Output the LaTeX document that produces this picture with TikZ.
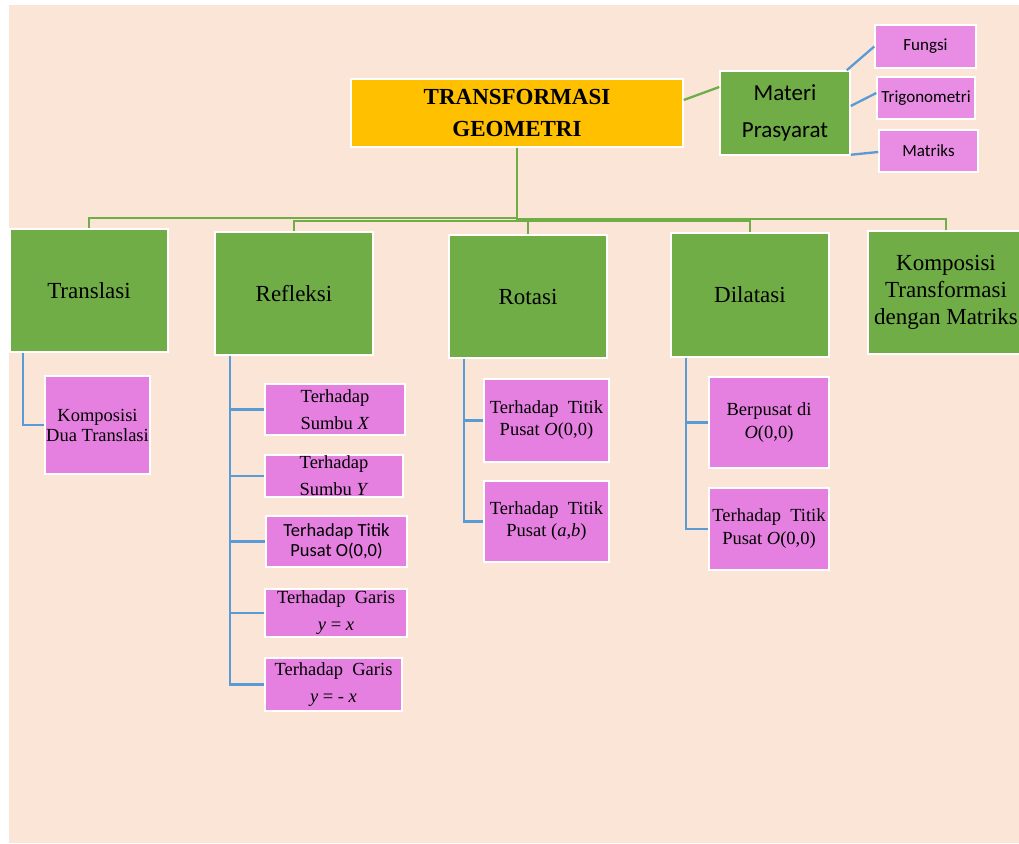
\documentclass[tikz,border=0pt]{standalone}
\usepackage{fontspec}
\setmainfont{Liberation Serif}
\newfontfamily\carl{Carlito}
\definecolor{peach}{HTML}{FBE5D6}
\definecolor{ogreen}{HTML}{70AD47}
\definecolor{oorange}{HTML}{FFC000}
\definecolor{oblue}{HTML}{5B9BD5}
\definecolor{opink}{HTML}{E580E0}
\definecolor{lpink}{HTML}{E98DE4}
\begin{document}
\begin{tikzpicture}[x=1pt,y=-1pt,
  box/.style={draw=white,line width=1.5pt,inner sep=0pt,align=center},
  titlebox/.style={box,fill=oorange,font=\fontsize{23}{32}\selectfont\bfseries},
  gbox/.style={box,fill=ogreen,font=\fontsize{23}{27}\selectfont},
  mbox/.style={box,fill=ogreen,font=\carl\fontsize{23}{37}\selectfont},
  pbox/.style={box,fill=opink,font=\fontsize{18.5}{22}\selectfont},
  sbox/.style={box,fill=lpink,font=\carl\fontsize{17}{18}\selectfont},
  gline/.style={draw=ogreen,line width=2.3pt},
  bline/.style={draw=oblue,line width=2.3pt},
]
\fill[white] (0,0) rectangle (1019,843);
\fill[peach] (9,5) rectangle (1019,843);
\useasboundingbox (0,0) rectangle (1019,843);

% top
\node[titlebox,minimum width=332pt,minimum height=68pt] (title) at (517,113) {TRANSFORMASI\\GEOMETRI};
\node[mbox,minimum width=130pt,minimum height=84pt] (materi) at (785,113) {Materi\\Prasyarat};
\node[sbox,minimum width=101pt,minimum height=43pt] (fungsi) at (925.5,46.5) {Fungsi};
\node[sbox,minimum width=98pt,minimum height=42pt] (trig) at (926,98) {Trigonometri};
\node[sbox,minimum width=99pt,minimum height=42pt] (matriks) at (928.5,151) {Matriks};

% main categories
\node[gbox,minimum width=158pt,minimum height=123pt] (translasi) at (89,290.5) {Translasi};
\node[gbox,minimum width=158pt,minimum height=123pt] (refleksi) at (294,293.5) {Refleksi};
\node[gbox,minimum width=158pt,minimum height=123pt] (rotasi) at (528,296.5) {Rotasi};
\node[gbox,minimum width=158pt,minimum height=124pt] (dilatasi) at (750,295) {Dilatasi};
\node[gbox,minimum width=156pt,minimum height=123pt] (komposisi) at (946,292.5) {Komposisi\\Transformasi\\dengan Matriks};

% children
\node[pbox,minimum width=105pt,minimum height=98pt,font=\fontsize{18.5}{20}\selectfont] (kdt) at (97.5,425) {Komposisi\\Dua Translasi};

\node[pbox,minimum width=140pt,minimum height=51pt,font=\fontsize{18.5}{27}\selectfont] (sx) at (335,409.5) {Terhadap\\Sumbu \textit{X}};
\node[pbox,minimum width=138pt,minimum height=42pt,font=\fontsize{18.5}{27}\selectfont] (sy) at (334,476) {Terhadap\\Sumbu \textit{Y}};
\node[pbox,minimum width=141pt,minimum height=51pt,font=\carl\fontsize{18.5}{20}\selectfont] (so) at (336.5,541.5) {Terhadap Titik\\Pusat O(0,0)};
\node[pbox,minimum width=142pt,minimum height=48pt,font=\fontsize{18.5}{27}\selectfont] (gx) at (336,613) {Terhadap\ \ Garis\\\textit{y} = \textit{x}};
\node[pbox,minimum width=137pt,minimum height=53pt,font=\fontsize{18.5}{27}\selectfont] (gmx) at (333.5,684.5) {Terhadap\ \ Garis\\\textit{y} = - \textit{x}};

\node[pbox,minimum width=125pt,minimum height=83pt] (ro1) at (546.5,420.5) {Terhadap\ \ Titik\\Pusat \textit{O}(0,0)};
\node[pbox,minimum width=125pt,minimum height=81pt] (ro2) at (546.5,521.5) {Terhadap\ \ Titik\\Pusat (\textit{a},\textit{b})};

\node[pbox,minimum width=120pt,minimum height=91pt,font=\fontsize{18.5}{23}\selectfont] (di1) at (769,422.5) {Berpusat di\\\textit{O}(0,0)};
\node[pbox,minimum width=120pt,minimum height=82pt,font=\fontsize{18.5}{23}\selectfont] (di2) at (769,529) {Terhadap\ \ Titik\\Pusat \textit{O}(0,0)};

% green connectors
\draw[gline] ([yshift=13pt]title.east) -- ([yshift=26pt]materi.west);
\draw[gline] (title.south) |- ([yshift=10pt]translasi.north) -- (translasi.north);
\draw[gline] (title.south) |- ([yshift=10pt]refleksi.north) -- (refleksi.north);
\draw[gline] (title.south) |- ([yshift=13pt]rotasi.north) -- (rotasi.north);
\draw[gline] (title.south) |- ([yshift=11pt]dilatasi.north) -- (dilatasi.north);
\draw[gline] (title.south) |- ([yshift=11pt]komposisi.north) -- (komposisi.north);

% blue connectors
\draw[bline] ([xshift=-4pt]materi.north east) -- (fungsi.west);
\draw[bline] ([yshift=7pt]materi.east) -- ([yshift=5pt]trig.west);
\draw[bline] ([yshift=1pt]materi.south east) -- ([yshift=-1pt]matriks.west);

\draw[bline] ([xshift=14pt]translasi.south west) |- (kdt.west);

\draw[bline] ([xshift=16pt]refleksi.south west) |- (sx.west);
\draw[bline] ([xshift=16pt]refleksi.south west) |- (sy.west);
\draw[bline] ([xshift=16pt]refleksi.south west) |- (so.west);
\draw[bline] ([xshift=16pt]refleksi.south west) |- (gx.west);
\draw[bline] ([xshift=16pt]refleksi.south west) |- (gmx.west);

\draw[bline] ([xshift=16pt]rotasi.south west) |- (ro1.west);
\draw[bline] ([xshift=16pt]rotasi.south west) |- (ro2.west);

\draw[bline] ([xshift=16pt]dilatasi.south west) |- (di1.west);
\draw[bline] ([xshift=16pt]dilatasi.south west) |- (di2.west);
\end{tikzpicture}
\end{document}
